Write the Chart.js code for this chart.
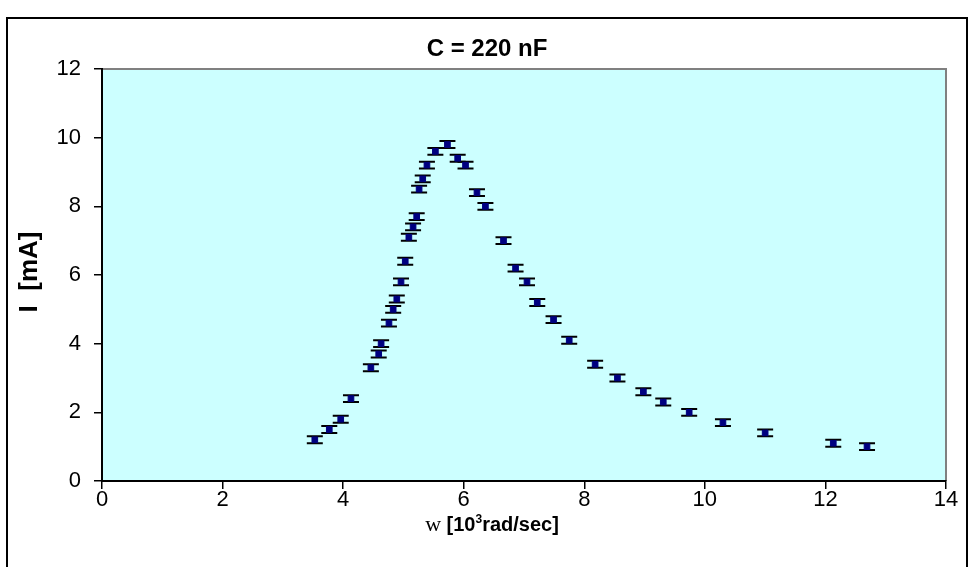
<!DOCTYPE html>
<html>
<head>
<meta charset="utf-8">
<script src="https://cdn.jsdelivr.net/npm/chart.js@4/dist/chart.umd.min.js"></script>
<style>
  html, body { margin: 0; padding: 0; background: #fff; }
  #wrap { width: 975px; height: 567px; }
</style>
</head>
<body>
<div id="wrap"><canvas id="myChart" width="975" height="567"></canvas></div>
<script>
// frequency w [10^3 rad/sec]
const omega = [3.53, 3.77, 3.96, 4.13, 4.46, 4.59, 4.63, 4.76, 4.83, 4.89,
               4.96, 5.03, 5.09, 5.16, 5.22, 5.26, 5.32, 5.39, 5.53, 5.73,
               5.90, 6.03, 6.22, 6.36, 6.66, 6.86, 7.05, 7.22, 7.49, 7.75,
               8.18, 8.55, 8.98, 9.31, 9.74, 10.30, 11.00, 12.13, 12.69];
// current I [mA]
const current = [1.2, 1.5, 1.8, 2.4, 3.3, 3.7, 4.0, 4.6, 5.0, 5.3,
                 5.8, 6.4, 7.1, 7.4, 7.7, 8.5, 8.8, 9.2, 9.6, 9.8,
                 9.4, 9.2, 8.4, 8.0, 7.0, 6.2, 5.8, 5.2, 4.7, 4.1,
                 3.4, 3.0, 2.6, 2.3, 2.0, 1.7, 1.4, 1.1, 1.0];
const yError = 0.1;
const xTicks = [0, 2, 4, 6, 8, 10, 12, 14];
const yTicks = [0, 2, 4, 6, 8, 10, 12];

const points = omega.map((w, i) => ({ x: w, y: current[i] }));

const SANS = '"Liberation Sans", Arial, sans-serif';

// background, frame and error bars
const decor = {
  id: 'decor',
  beforeDraw(chart) {
    const { ctx, chartArea: a } = chart;
    ctx.save();
    ctx.fillStyle = '#fff';
    ctx.fillRect(0, 0, chart.width, chart.height);
    ctx.strokeStyle = '#000';
    ctx.lineWidth = 2;
    ctx.strokeRect(7, 18, 960, 600);
    ctx.fillStyle = '#CCFFFF';
    ctx.fillRect(a.left, a.top, a.right - a.left, a.bottom - a.top);
    ctx.strokeStyle = '#808080';
    ctx.lineWidth = 2;
    ctx.beginPath();
    ctx.moveTo(a.left, a.top);
    ctx.lineTo(a.right, a.top);
    ctx.lineTo(a.right, a.bottom);
    ctx.stroke();
    ctx.restore();
  },
  beforeDatasetsDraw(chart) {
    const { ctx, scales } = chart;
    const xs = scales.x, ys = scales.y;
    ctx.save();
    ctx.strokeStyle = '#000';
    ctx.lineWidth = 2;
    points.forEach(p => {
      const px = xs.getPixelForValue(p.x);
      const top = ys.getPixelForValue(p.y + yError);
      const bot = ys.getPixelForValue(p.y - yError);
      ctx.beginPath();
      ctx.moveTo(px, top); ctx.lineTo(px, bot);
      ctx.moveTo(px - 8, top); ctx.lineTo(px + 8, top);
      ctx.moveTo(px - 8, bot); ctx.lineTo(px + 8, bot);
      ctx.stroke();
    });
    ctx.restore();
  },
  afterDraw(chart) {
    const { ctx } = chart;
    ctx.save();
    ctx.fillStyle = '#000';
    ctx.textBaseline = 'alphabetic';
    // title
    ctx.font = 'bold 24px ' + SANS;
    ctx.textAlign = 'center';
    ctx.fillText('C = 220 nF', 487, 56);
    // y title
    ctx.save();
    ctx.translate(37, 272);
    ctx.rotate(-Math.PI / 2);
    ctx.font = 'bold 26px ' + SANS;
    ctx.fillText('I  [mA]', 0, 0);
    ctx.restore();
    // x title, mixed fonts
    const parts = [
      { t: 'w ', f: '22px "Liberation Serif", "Times New Roman", serif', dy: 0 },
      { t: '[10', f: 'bold 20px ' + SANS, dy: 0 },
      { t: '3', f: 'bold 12px ' + SANS, dy: -8 },
      { t: 'rad/sec]', f: 'bold 20px ' + SANS, dy: 0 }
    ];
    let total = 0;
    parts.forEach(p => { ctx.font = p.f; p.w = ctx.measureText(p.t).width; total += p.w; });
    let x = 492 - total / 2;
    ctx.textAlign = 'left';
    parts.forEach(p => { ctx.font = p.f; ctx.fillText(p.t, x, 531 + p.dy); x += p.w; });
    ctx.restore();
  }
};

const ctx = document.getElementById('myChart').getContext('2d');

const chart = new Chart(ctx, {
  type: 'scatter',
  data: {
    datasets: [{
      label: 'I',
      data: points,
      pointStyle: 'rect',
      pointRadius: 4,
      pointHoverRadius: 4,
      backgroundColor: '#000080',
      borderColor: '#000080',
      borderWidth: 1
    }]
  },
  options: {
    responsive: false,
    animation: false,
    layout: { padding: { top: 69, right: 29, left: 0, bottom: 0 } },
    plugins: { legend: { display: false }, title: { display: false }, tooltip: { enabled: false } },
    scales: {
      x: {
        type: 'linear',
        min: 0, max: 14,
        afterBuildTicks: axis => { axis.ticks = xTicks.map(v => ({ value: v })); },
        afterFit: axis => { axis.height = 86; },
        grid: { drawOnChartArea: false, drawTicks: true, tickLength: 8, color: '#000', lineWidth: 1.5 },
        border: { display: true, color: '#000', width: 2 },
        ticks: { color: '#000', font: { family: SANS, size: 22 }, padding: -2, maxRotation: 0 }
      },
      y: {
        type: 'linear',
        min: 0, max: 12,
        afterBuildTicks: axis => { axis.ticks = yTicks.map(v => ({ value: v })); },
        afterFit: axis => { axis.width = 102; },
        grid: { drawOnChartArea: false, drawTicks: true, tickLength: 8, color: '#000', lineWidth: 1.5 },
        border: { display: true, color: '#000', width: 2 },
        ticks: { color: '#000', font: { family: SANS, size: 22 }, padding: 13 }
      }
    }
  },
  plugins: [decor]
});
</script>
</body>
</html>
